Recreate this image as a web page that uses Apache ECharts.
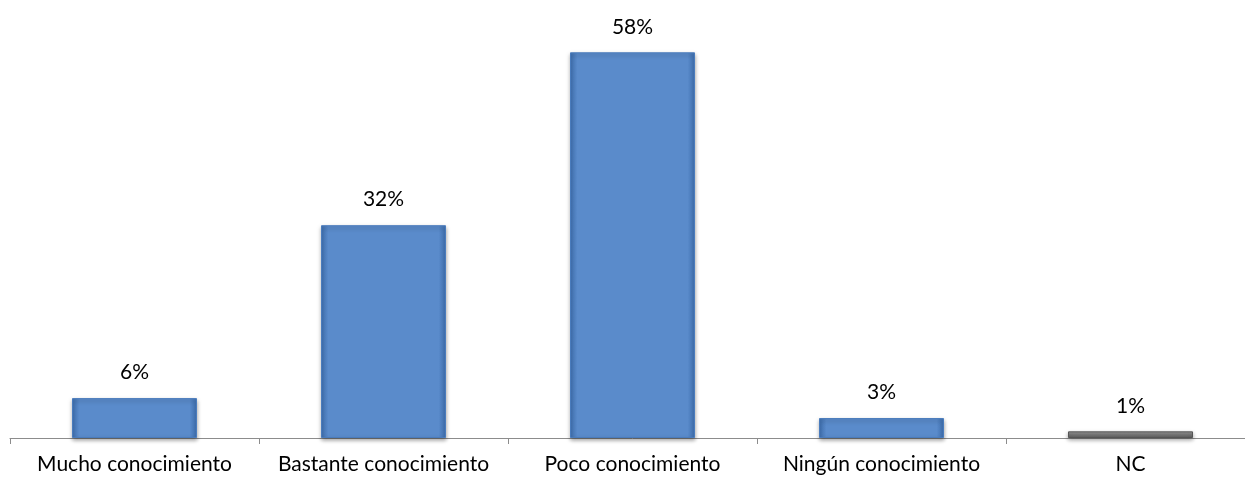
<!DOCTYPE html>
<html><head><meta charset="utf-8">
<script src="https://cdn.jsdelivr.net/npm/echarts@6/dist/echarts.min.js"></script>
<style>html,body{margin:0;padding:0;background:#fff;overflow:hidden}#c{width:1255px;height:485px}</style>
</head><body><div id="c"></div>
<script>
const categories = ['Mucho conocimiento','Bastante conocimiento','Poco conocimiento','Ningún conocimiento','NC'];
const values = [6, 32, 58, 3, 1];

function blueGrad(){
  return new echarts.graphic.LinearGradient(0,0,1,0,[
    {offset:0,color:'#3f70b0'},{offset:0.06,color:'#5a8bcb'},
    {offset:0.94,color:'#5a8bcb'},{offset:1,color:'#3f70b0'}]);
}
function grayGrad(){
  return new echarts.graphic.LinearGradient(0,0,0,1,[
    {offset:0,color:'#9a9a9a'},{offset:0.5,color:'#7a7a7a'},{offset:1,color:'#5e5e5e'}]);
}
const chart = echarts.init(document.getElementById('c'));
chart.setOption({
  animation:false,
  grid:{left:10,right:0,top:39,bottom:47,containLabel:false},
  xAxis:{type:'category',data:categories,
    axisLine:{lineStyle:{color:'#8c8c8c',width:1}},
    axisTick:{show:true,length:6,lineStyle:{color:'#8c8c8c'}},
    axisLabel:{color:'#000',fontFamily:'Lato',fontSize:21,margin:16,interval:0}},
  yAxis:{type:'value',min:0,max:60,show:false,splitLine:{show:false}},
  series:[{type:'bar',barWidth:125,
    data:values.map((v,i)=>({value:v,itemStyle:{color: categories[i]==='NC'?grayGrad():blueGrad(),
      borderColor: categories[i]==='NC'?'#555':'#4a7cbd', borderWidth:1}})),
    itemStyle:{shadowColor:'rgba(0,0,0,0.35)',shadowBlur:4,shadowOffsetY:2},
    label:{show:true,position:'top',distance:15,formatter:p=>p.value+'%',
      color:'#000',fontFamily:'Lato',fontSize:21}
  }]
});
</script></body></html>
